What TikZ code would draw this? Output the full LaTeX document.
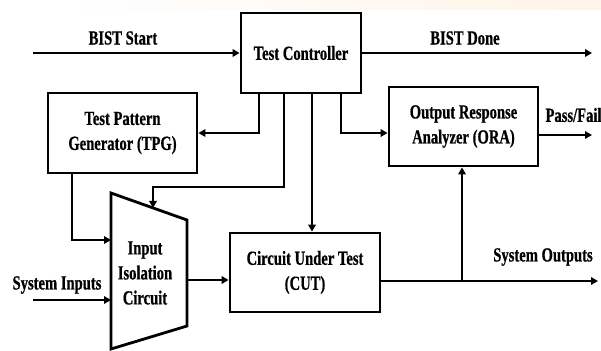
\documentclass[tikz,border=0pt]{standalone}
\usepackage{fontspec}
\setmainfont{Liberation Serif}[FakeStretch=0.73,BoldFeatures={FakeBold=0.6}]
\usetikzlibrary{arrows.meta,calc}
\tikzset{
	blk/.style={draw,line width=2.8pt,align=center,inner sep=2pt},
	sig/.style={->,line width=2.8pt},
}
\begin{document}
\begin{tikzpicture}[x=1pt,y=-1pt,>={Triangle[length=7pt,width=7.5pt]},line join=miter,
	font=\fontsize{20}{25}\selectfont\bfseries]
	\useasboundingbox (0,0) rectangle (601,350);
	% pale strip left over along the top edge
	\shade[left color=white,right color=orange!9,draw=none] (55,0) rectangle (601,10);
	
	% blocks
	\node[blk,minimum width=120,minimum height=80] (tc) at (301,53) {Test Controller};
	\node[blk,minimum width=149,minimum height=80] (tpg) at (122.5,133) {Test Pattern\\Generator (TPG)};
	\node[blk,minimum width=149,minimum height=79] (ora) at (463.5,126.5) {Output Response\\Analyzer (ORA)};
	\node[blk,minimum width=150,minimum height=79] (cut) at (305,272.5) {Circuit Under Test\\(CUT)};
	
	% isolation block (trapezoid)
	\draw[line width=2.8pt] (111,193) coordinate (m1) -- (187,220) coordinate (m2)
	-- (187,326) coordinate (m3) -- (111,349) coordinate (m4) -- cycle;
	\node[align=center] (iic) at (145,273) {Input\\Isolation\\Circuit};
	\coordinate (sel) at ($(m1)!.553!(m2)$);
	
	% free ends
	\coordinate (bsin) at (33,53);
	\coordinate (bdout) at (592,53);
	\coordinate (pf) at (592,135);
	\coordinate (sysin) at (33,300);
	\coordinate (sysout) at (598,281);
	\coordinate (br) at (462,281);
	
	% signals
	\draw[sig] (bsin) -- (tc.west);
	\draw[sig] (tc.east) -- (bdout);
	\draw[sig] (tc.south -| 259,0) |- (tpg.east);
	\draw[sig] (tc.south -| 284,0) |- (sel |- 0,187) -- (sel);
	\draw[sig] (tc.south -| 312,0) -- (cut.north -| 312,0);
	\draw[sig] (tc.south -| 341,0) |- (ora.west |- 0,133);
	\draw[sig] (ora.east |- pf) -- (pf);
	\draw[sig] (tpg.south -| 72,0) |- (m1 |- 0,240);
	\draw[sig] (sysin) -- (m1 |- sysin);
	\draw[sig] (m2 |- 0,280) -- (cut.west |- 0,280);
	\draw[sig] (cut.east |- sysout) -- (sysout);
	\draw[sig] (br) -- (ora.south -| br);
	
	% labels
	\node (bslbl) at (123,38) {BIST Start};
	\node (bdlbl) at (465,38) {BIST Done};
	\node[anchor=west] (pflbl) at (542,115) {Pass/Fail};
	\node (silbl) at (57,285) {System Inputs};
	\node (solbl) at (543,257) {System Outputs};
\end{tikzpicture}
\end{document}
